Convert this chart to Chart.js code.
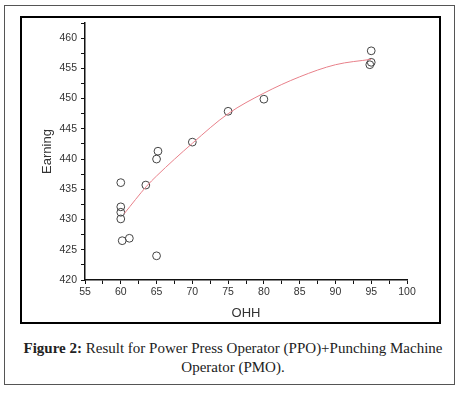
<!DOCTYPE html>
<html>
<head>
<meta charset="utf-8">
<script src="https://cdn.jsdelivr.net/npm/chart.js@4/dist/chart.umd.min.js"></script>
<style>
  html, body { margin: 0; padding: 0; background: #fff; }
  body { width: 468px; height: 393px; position: relative; overflow: hidden; }
  #frame { position: absolute; left: 4px; top: 5px; width: 451px; height: 380px; border: 1px solid #555; box-sizing: border-box; }
  #box { position: absolute; left: 20px; top: 16px; width: 421px; height: 308px; border: 2px solid #000; box-sizing: border-box; }
  #chart { position: absolute; left: 22px; top: 18px; }
  #caption { position: absolute; left: 8px; top: 339px; width: 450px; text-align: center;
    font-family: "Liberation Serif", "Times New Roman", serif; font-size: 15px; line-height: 19px; color: #222; }
</style>
</head>
<body>
<div id="frame"></div>
<div id="box"></div>
<canvas id="chart" width="417" height="304"></canvas>
<div id="caption"><b>Figure 2:</b> Result for Power Press Operator (PPO)+Punching Machine<br>Operator (PMO).</div>
<script>
// observed points
const ohh = [60, 60, 60, 60, 60.2, 61.2, 65, 63.5, 65, 65.2, 70, 75, 80, 95, 95, 94.8];
const earning = [436.1, 432.1, 431.2, 430.1, 426.5, 426.9, 424, 435.7, 440, 441.3, 442.8, 447.9, 449.9, 457.9, 456, 455.6];

// fitted curve
const fitOhh = [60.5, 63.6, 65, 70, 75, 80, 85, 90, 95];
const fitEarning = [431, 435.5, 437.2, 442.6, 447.5, 450.9, 453.6, 455.6, 456.5];

const toPoints = (xs, ys) => xs.map((x, i) => ({ x: x, y: ys[i] }));

const axisFont = { family: 'Liberation Sans, Arial, sans-serif', size: 10.5 };
const titleFont = { family: 'Liberation Sans, Arial, sans-serif', size: 13 };

new Chart(document.getElementById('chart').getContext('2d'), {
    type: 'scatter',
    data: {
        datasets: [
            {
                label: 'Fit',
                type: 'line',
                data: toPoints(fitOhh, fitEarning),
                borderColor: '#e8808a',
                borderWidth: 1,
                pointRadius: 0,
                fill: false,
                cubicInterpolationMode: 'monotone'
            },
            {
                label: 'Earning',
                data: toPoints(ohh, earning),
                pointRadius: 3.9,
                pointBorderWidth: 1,
                pointBorderColor: '#444',
                pointBackgroundColor: 'rgba(0,0,0,0)'
            }
        ]
    },
    options: {
        responsive: false,
        animation: false,
        layout: { padding: { left: 16, right: 32, top: 3, bottom: 0 } },
        plugins: { legend: { display: false }, tooltip: { enabled: false } },
        scales: {
            x: {
                type: 'linear',
                min: 55,
                max: 100,
                afterFit: scale => { scale.height = 42; },
                border: { color: '#111', width: 1.5 },
                grid: { drawOnChartArea: false, drawTicks: true, tickLength: 4, tickColor: '#111' },
                ticks: {
                    stepSize: 2.5,
                    autoSkip: false,
                    maxRotation: 0,
                    padding: 2,
                    color: '#333',
                    font: axisFont,
                    callback: v => (v % 5 === 0 ? v : '')
                },
                title: { display: true, text: 'OHH', color: '#333', font: titleFont, padding: { top: 0, bottom: 1 } }
            },
            y: {
                min: 420,
                max: 462.5,
                afterFit: scale => { scale.width = 47; scale.paddingTop = 0; scale.paddingBottom = 0; },
                border: { color: '#111', width: 1.5 },
                grid: { drawOnChartArea: false, drawTicks: true, tickLength: 4, tickColor: '#111' },
                ticks: {
                    stepSize: 2.5,
                    autoSkip: false,
                    padding: 4,
                    color: '#333',
                    font: axisFont,
                    callback: v => (v % 5 === 0 ? v : '')
                },
                title: { display: true, text: 'Earning', color: '#333', font: titleFont, padding: { top: 2, bottom: 0 } }
            }
        }
    }
});
</script>
</body>
</html>
